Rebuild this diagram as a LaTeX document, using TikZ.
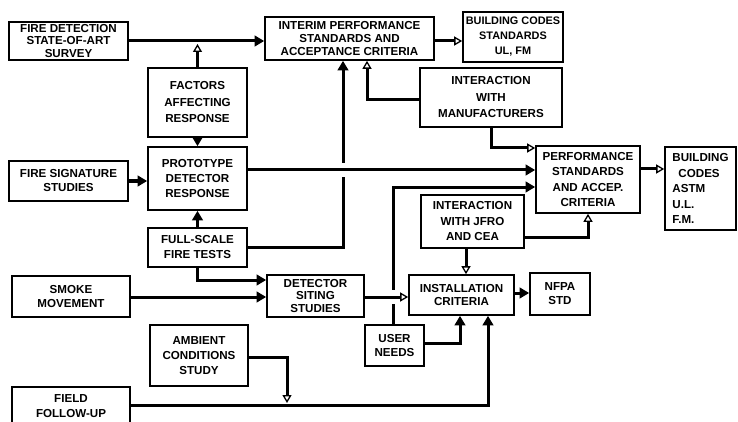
\documentclass[tikz,border=0pt]{standalone}
\usepackage{fontspec}
\setmainfont{Liberation Sans}
\usetikzlibrary{arrows.meta}
\newcommand{\bx}[1]{\bfseries\fontsize{11.6}{#1}\selectfont}
\tikzset{
  box/.style={draw, line width=1.6pt, inner sep=0pt, align=center},
  conn/.style={line width=3pt},
  fa/.style={conn, -{Triangle[length=9.5pt,width=10.5pt]}},
  oa/.style={conn, -{Triangle[open,length=8pt,width=9pt,line width=1.3pt,fill=white]}},
}
\begin{document}
\begin{tikzpicture}[x=1pt,y=-1pt]
\useasboundingbox (0,0) rectangle (738,422);
\fill[white] (0,0) rectangle (738,422);
% boxes
\node[box, minimum width=119, minimum height=38, font=\bx{12.5}] (survey) at (68.5,41) {FIRE DETECTION\\STATE-OF-ART\\SURVEY};
\node[box, minimum width=169, minimum height=43, font=\bx{13}] (interim) at (349.5,38.5) {INTERIM PERFORMANCE\\STANDARDS AND\\ACCEPTANCE CRITERIA};
\node[box, minimum width=100, minimum height=50, font=\bfseries\fontsize{10.9}{15}\selectfont] (bca) at (513,37) {BUILDING CODES\\STANDARDS\\UL, FM};
\node[box, minimum width=99, minimum height=69, font=\bx{16.5}] (factors) at (197.5,102.5) {FACTORS\\AFFECTING\\RESPONSE};
\node[box, minimum width=142, minimum height=59, font=\bx{16.5}] (manuf) at (491,97.5) {INTERACTION\\WITH\\MANUFACTURERS};
\node[box, minimum width=119, minimum height=40, font=\bx{14}] (firesig) at (68.5,181) {FIRE SIGNATURE\\STUDIES};
\node[box, minimum width=99, minimum height=63, font=\bx{15}] (proto) at (197.5,178.5) {PROTOTYPE\\DETECTOR\\RESPONSE};
\node[box, minimum width=99, minimum height=39, font=\bx{15}] (full) at (197.5,247.5) {FULL-SCALE\\FIRE TESTS};
\node[box, minimum width=104, minimum height=67, font=\bx{15.5}] (perf) at (588,179.5) {PERFORMANCE\\STANDARDS\\AND ACCEP.\\CRITERIA};
\node[box, minimum width=71, minimum height=83, align=left, font=\bx{15.5}] (bcb) at (700.5,188.5) {BUILDING\\\hspace*{6pt}CODES\\ASTM\\U.L.\\F.M.};
\node[box, minimum width=103, minimum height=53, font=\bx{15.5}] (jfro) at (472.5,221.5) {INTERACTION\\WITH JFRO\\AND CEA};
\node[box, minimum width=118, minimum height=41, font=\bx{13.5}] (smoke) at (71,296.5) {SMOKE\\MOVEMENT};
\node[box, minimum width=97, minimum height=42, font=\bx{12.5}] (siting) at (315.5,296) {DETECTOR\\SITING\\STUDIES};
\node[box, minimum width=105, minimum height=40, font=\bx{13.5}] (install) at (461.5,295) {INSTALLATION\\CRITERIA};
\node[box, minimum width=60, minimum height=42, font=\bx{14}] (nfpa) at (560,294) {NFPA\\STD};
\node[box, minimum width=59, minimum height=41, font=\bx{14}] (user) at (394.5,345.5) {USER\\NEEDS};
\node[box, minimum width=98, minimum height=61, font=\bx{15}] (ambient) at (199,355.5) {AMBIENT\\CONDITIONS\\STUDY};
\node[box, minimum width=118, minimum height=38, font=\bx{15}] (field) at (71,406) {FIELD\\FOLLOW-UP};
% helper coordinates
\coordinate (yA) at (0,41);
\coordinate (yAb) at (0,44);
\coordinate (xF) at (343,0);
\coordinate (xG) at (367,0);
\coordinate (yG) at (0,100);
\coordinate (xI) at (491,0);
\coordinate (yI) at (0,148);
\coordinate (yJ) at (0,170);
\coordinate (yK) at (0,297);
\coordinate (xU) at (393,0);
\coordinate (yU) at (0,187);
\coordinate (xL) at (466,0);
\coordinate (yM) at (0,237);
\coordinate (yN) at (0,169);
\coordinate (yO) at (0,293);
\coordinate (yQ) at (0,280);
\coordinate (yR) at (0,405);
\coordinate (xR) at (488,0);
\coordinate (yS) at (0,357);
\coordinate (yS2) at (0,403);
\coordinate (xS) at (287,0);
\coordinate (yUs) at (0,343);
\coordinate (xUs) at (460,0);
% connectors
\draw[fa] (survey.east |- yA) -- (interim.west |- yA);
\draw[oa] (factors.north) -- (factors.north |- yAb);
\draw[fa] (factors.south) -- (proto.north);
\draw[fa] (firesig.east) -- (firesig.east -| proto.west);
\draw[fa] (full.north) -- (proto.south);
\draw[fa] (full.east) -| (interim.south -| xF);
\draw[oa] (manuf.west |- yG) -| (interim.south -| xG);
\draw[oa] (interim.east |- yA) -- (bca.west |- yA);
\draw[oa] (manuf.south -| xI) |- (perf.west |- yI);
\fill[white] (337,163) rectangle (349,177);
\draw[fa] (proto.east |- yJ) -- (perf.west |- yJ);
\draw[fa] (user.north -| xU) |- (perf.west |- yU);
\fill[white] (387,290) rectangle (399,304);
\draw[oa] (siting.east |- yK) -- (install.west |- yK);
\draw[oa] (jfro.south -| xL) -- (install.north -| xL);
\draw[oa] (jfro.east |- yM) -| (perf.south);
\draw[oa] (perf.east |- yN) -- (bcb.west |- yN);
\draw[fa] (install.east |- yO) -- (nfpa.west |- yO);
\draw[fa] (smoke.east |- yK) -- (siting.west |- yK);
\draw[fa] (full.south) |- (siting.west |- yQ);
\draw[fa] (field.east |- yR) -| (install.south -| xR);
\draw[oa] (ambient.east |- yS) -| (xS |- yS2);
\draw[fa] (user.east |- yUs) -| (install.south -| xUs);
\end{tikzpicture}
\end{document}
